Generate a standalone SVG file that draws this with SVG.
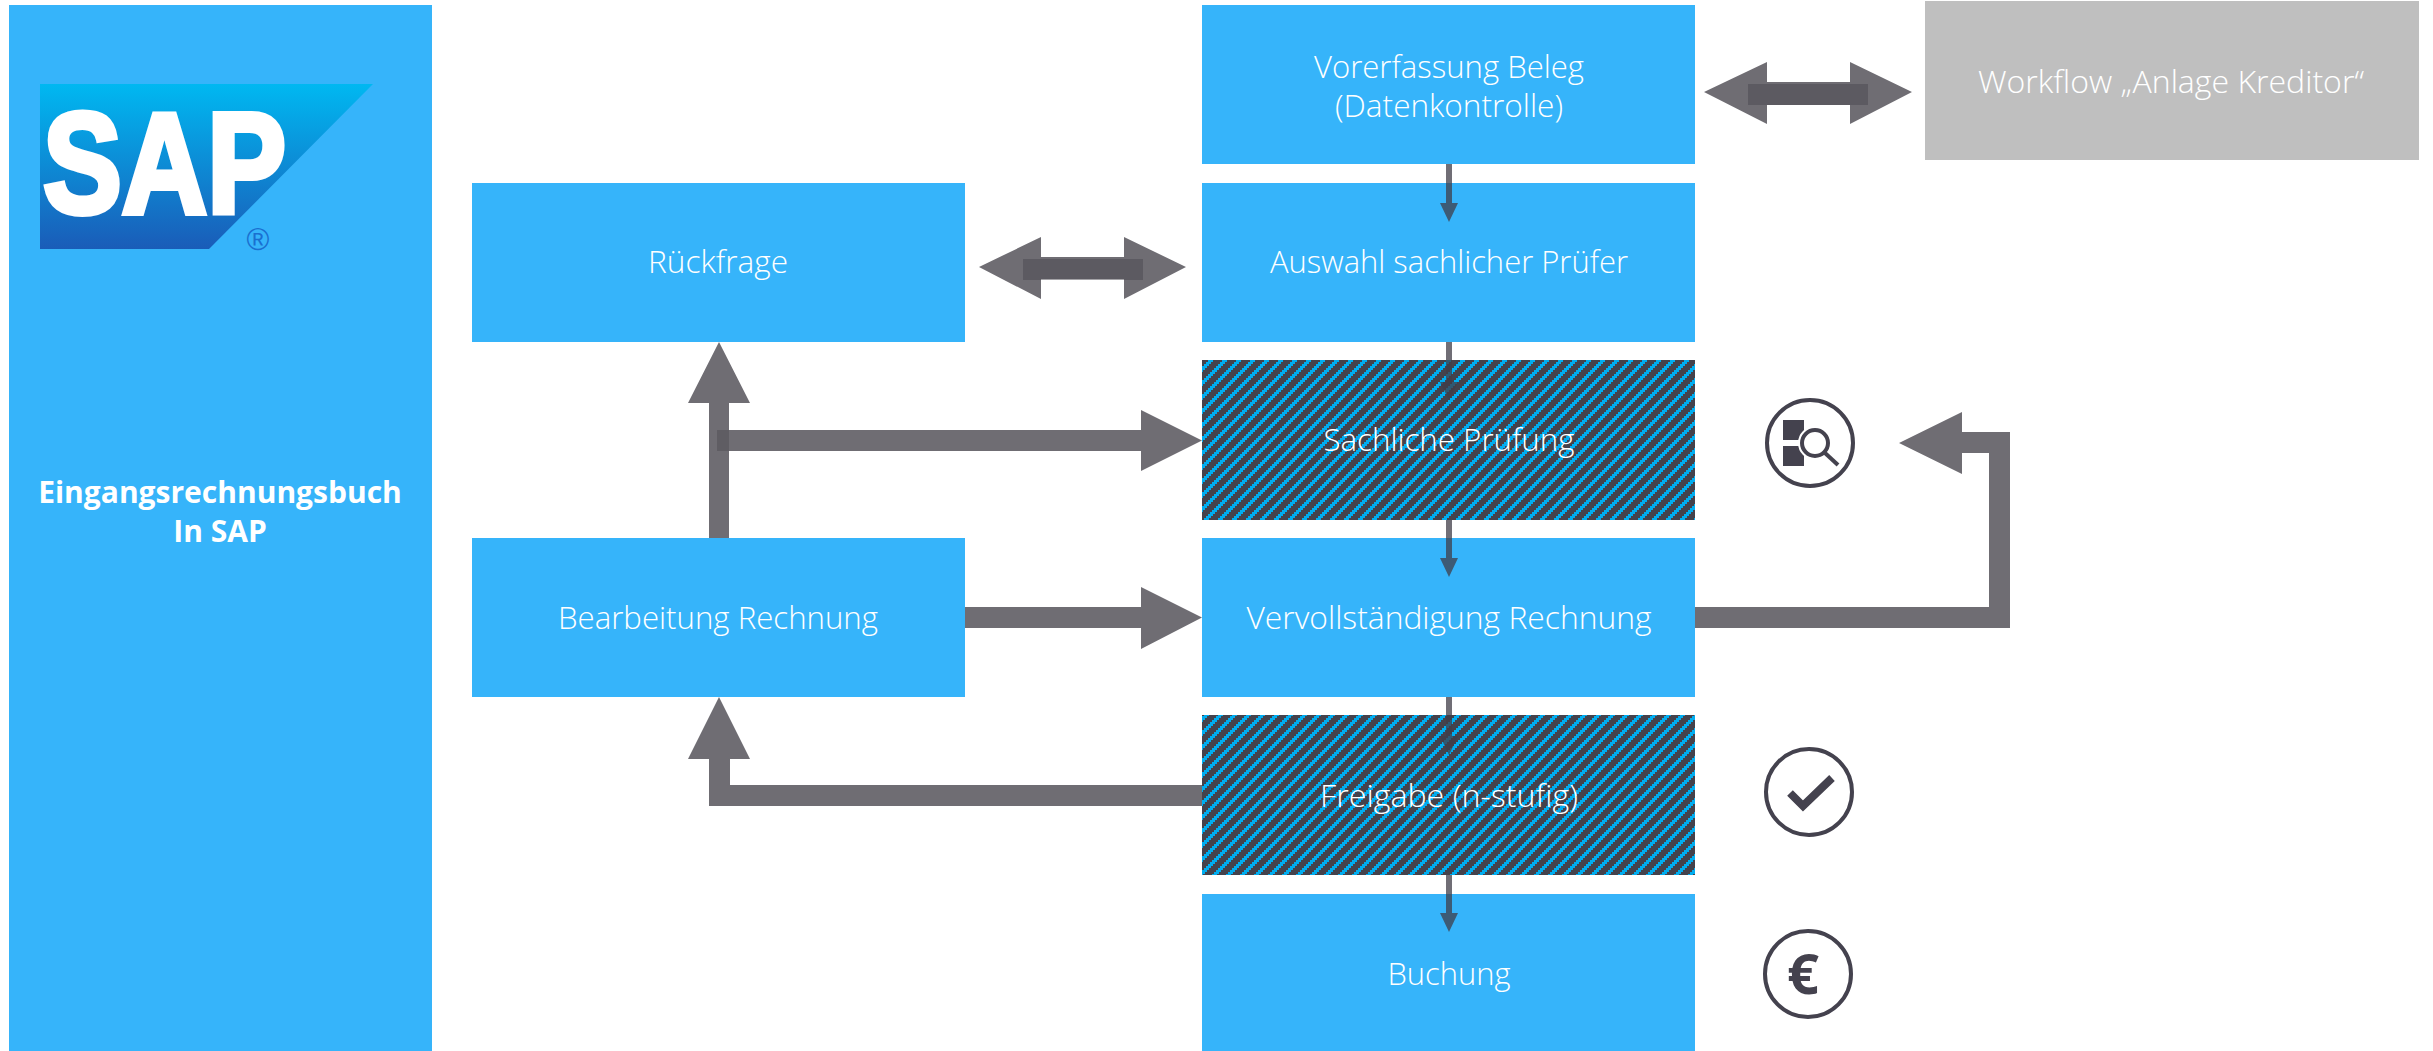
<svg xmlns="http://www.w3.org/2000/svg" width="2433" height="1051" viewBox="0 0 2433 1051">
<style>
.b{fill:#36b4fa}
.g{fill:#bfbfbf}
.h{fill:url(#hatch)}
.t{font-family:"Open Sans","Noto Sans",sans-serif;font-weight:300;font-size:31px;fill:#fff;text-anchor:middle}
.tb{font-family:"Open Sans","Noto Sans",sans-serif;font-weight:700;font-size:30px;fill:#fff;text-anchor:middle}
.a{fill:#6f6d73}
.x{fill:#5f5d63}
.o{fill:#403e48;fill-opacity:.75}
.d{fill:#4a4850;fill-opacity:.5}
.ic{fill:none;stroke:#44424e;stroke-width:4}
.if{fill:#44424e}
</style>
<defs>
<pattern id="hatch" patternUnits="userSpaceOnUse" width="14" height="14" x="1202" y="360">
<rect width="14" height="14" fill="#44424c" shape-rendering="crispEdges"/>
<path fill="#00adf0" shape-rendering="crispEdges" d="M6 0h5v2h-5zM4 2h5v2h-5zM2 4h5v2h-5zM0 6h5v2h-5zM12 8h2v2h-2zM0 8h3v2h-3zM10 10h4v2h-4zM0 10h1v2h-1zM8 12h5v2h-5z"/>
</pattern>
<linearGradient id="lg" x1="0" y1="0" x2="0" y2="1">
<stop offset="0" stop-color="#00b8f1"/>
<stop offset="1" stop-color="#1a5cb8"/>
</linearGradient>
</defs>
<g id="panel">
<rect class="b" x="9" y="5" width="423" height="1046"/>
<text class="tb" x="220" y="503">Eingangsrechnungsbuch</text>
<text class="tb" x="220" y="542">In SAP</text>
</g>
<g id="logo">
<polygon points="40,84 373,84 209,249 40,249" fill="url(#lg)"/>
<text x="43" y="213" font-family="Liberation Sans,sans-serif" font-weight="700" font-size="142" fill="#fff" stroke="#fff" stroke-width="6" textLength="243" lengthAdjust="spacingAndGlyphs">SAP</text>
<text x="258" y="250" text-anchor="middle" font-family="Liberation Sans,sans-serif" font-size="31" fill="#1a6fd0">®</text>
</g>
<g id="n-vorerfassung"><rect class="b" x="1202" y="5" width="493" height="159"/><text class="t" x="1449" y="78" textLength="270" lengthAdjust="spacingAndGlyphs">Vorerfassung Beleg</text><text class="t" x="1449" y="117" textLength="228" lengthAdjust="spacingAndGlyphs">(Datenkontrolle)</text></g>
<g id="n-workflow"><rect class="g" x="1925" y="1" width="494" height="159"/><text class="t" x="2171" y="93" textLength="386" lengthAdjust="spacingAndGlyphs">Workflow „Anlage Kreditor“</text></g>
<g id="n-rueckfrage"><rect class="b" x="472" y="183" width="493" height="159"/><text class="t" x="718" y="273" textLength="140" lengthAdjust="spacingAndGlyphs">Rückfrage</text></g>
<g id="n-auswahl"><rect class="b" x="1202" y="183" width="493" height="159"/><text class="t" x="1449" y="273" textLength="358" lengthAdjust="spacingAndGlyphs">Auswahl sachlicher Prüfer</text></g>
<g id="n-sachlich"><rect class="h" x="1202" y="360" width="493" height="160"/></g>
<g id="n-bearbeitung"><rect class="b" x="472" y="538" width="493" height="159"/><text class="t" x="718" y="629" textLength="320" lengthAdjust="spacingAndGlyphs">Bearbeitung Rechnung</text></g>
<g id="n-vervoll"><rect class="b" x="1202" y="538" width="493" height="159"/><text class="t" x="1449" y="629" textLength="405" lengthAdjust="spacingAndGlyphs">Vervollständigung Rechnung</text></g>
<g id="n-freigabe"><rect class="h" x="1202" y="715" width="493" height="160"/></g>
<g id="n-buchung"><rect class="b" x="1202" y="894" width="493" height="157"/><text class="t" x="1449" y="985" textLength="123" lengthAdjust="spacingAndGlyphs">Buchung</text></g>
<g id="connectors">
<polygon class="o" points="1446,164 1452,164 1452,203 1458,203 1449,222 1440,203 1446,203"/>
<polygon class="o" points="1446,342 1452,342 1452,382 1458,382 1449,400 1440,382 1446,382"/>
<polygon class="o" points="1446,520 1452,520 1452,558 1458,558 1449,577 1440,558 1446,558"/>
<polygon class="o" points="1446,697 1452,697 1452,736 1458,736 1449,755 1440,736 1446,736"/>
<polygon class="o" points="1446,875 1452,875 1452,913 1458,913 1449,932 1440,913 1446,913"/>
<polygon class="a" points="1704,92 1767,62 1767,82 1850,82 1850,62 1912,92 1850,124 1850,105 1767,105 1767,124"/>
<rect class="d" x="1748" y="84" width="120" height="21"/>
<polygon class="a" points="979,267 1041,237 1041,257 1124,257 1124,237 1186,267 1124,299 1124,279 1041,279 1041,299"/>
<rect class="d" x="1023" y="259" width="120" height="21"/>
<polygon class="a" points="709,538 709,403 688,403 719,342 750,403 729,403 729,430 1141,430 1141,410 1202,440.5 1141,471 1141,451 729,451 729,538"/>
<rect class="x" x="717" y="430" width="12" height="21"/>
<polygon class="a" points="965,607 1141,607 1141,587 1202,617.5 1141,649 1141,628 965,628"/>
<polygon class="a" points="1695,607 1989,607 1989,453 1962,453 1962,474 1899,443 1962,412 1962,432 2010,432 2010,628 1695,628"/>
<polygon class="a" points="1202,785 730,785 730,759 750,759 719,697 688,759 709,759 709,806 1202,806"/>
</g>
<g id="l-sachlich"><text class="t" x="1449" y="451" textLength="251" lengthAdjust="spacingAndGlyphs">Sachliche Prüfung</text></g>
<g id="l-freigabe"><text class="t" x="1449" y="807" textLength="258" lengthAdjust="spacingAndGlyphs">Freigabe (n-stufig)</text></g>
<g id="i-pruefung">
<circle class="ic" cx="1810" cy="443" r="43"/>
<rect class="if" x="1783" y="420" width="21" height="20"/>
<rect class="if" x="1783" y="446" width="21" height="20"/>
<circle cx="1815" cy="443" r="15" fill="#fff" stroke="#fff" stroke-width="4"/>
<circle class="ic" cx="1815" cy="443" r="13"/>
<path d="M1825 453L1838 465" class="ic"/>
</g>
<g id="i-check">
<circle class="ic" cx="1809" cy="792" r="43"/>
<polyline points="1790,793 1803,806 1832,778" fill="none" stroke="#44424e" stroke-width="8"/>
</g>
<g id="i-euro">
<circle class="ic" cx="1808" cy="974" r="43"/>
<text x="1803" y="994" text-anchor="middle" font-family="Open Sans,sans-serif" font-weight="700" font-size="56" fill="#44424e">€</text>
</g>
</svg>
